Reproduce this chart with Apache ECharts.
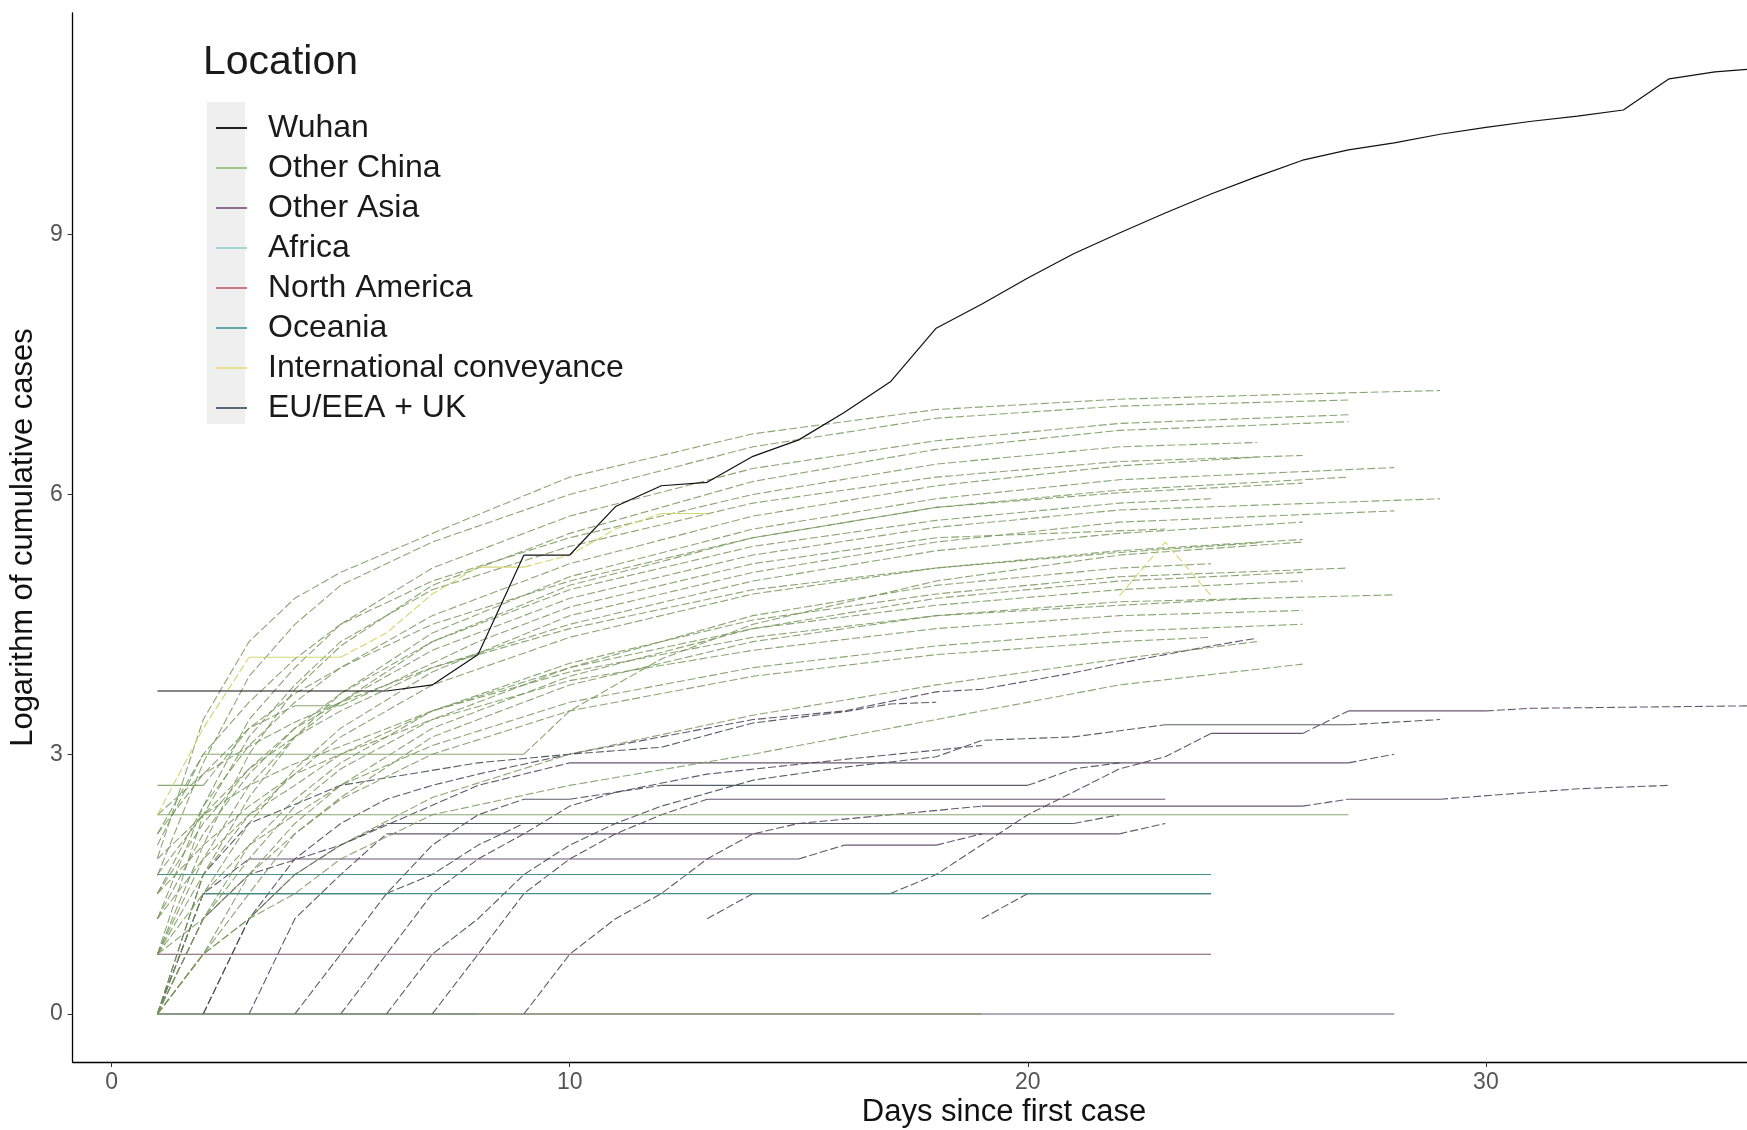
<!DOCTYPE html>
<html>
<head>
<meta charset="utf-8">
<script src="https://cdn.jsdelivr.net/npm/echarts@6/dist/echarts.min.js"></script>
<style>
html,body{margin:0;padding:0;background:#fff;}
#chart{width:1747px;height:1130px;}
</style>
</head>
<body>
<div id="chart"></div>
<script>
// ---- data (day, log cumulative cases) ----
const xTicks = [0, 10, 20, 30];
const yTicks = [0, 3, 6, 9];
const groups = ['Wuhan','Other China','Other Asia','Africa','North America','Oceania','International conveyance','EU/EEA + UK'];

const wuhan = [[1,3.73],[2,3.73],[3,3.73],[4,3.73],[5,3.73],[6,3.73],[7,3.8],[8,4.15],[9,5.3],[10,5.3],[11,5.86],[12,6.1],[13,6.14],[14,6.44],[15,6.63],[16,6.95],[17,7.3],[18,7.92],[19,8.2],[20,8.5],[21,8.78],[22,9.02],[23,9.25],[24,9.47],[25,9.67],[26,9.86],[27,9.98],[28,10.06],[29,10.16],[30,10.24],[31,10.31],[32,10.37],[33,10.44],[34,10.8],[35,10.88],[36,10.92]];

const otherChina = [
  [[1,1.8],[2,3.4],[3,4.3],[4,4.8],[5,5.1],[7,5.55],[10,6.2],[14,6.7],[18,6.98],[22,7.1],[26,7.16],[29,7.2]],
  [[1,1.6],[2,2.9],[3,3.9],[4,4.5],[5,4.95],[7,5.45],[10,6.0],[14,6.55],[18,6.88],[22,7.02],[27,7.09]],
  [[1,1.1],[2,2.4],[3,3.4],[4,4.0],[5,4.5],[7,5.15],[10,5.75],[14,6.3],[18,6.62],[22,6.82],[27,6.92]],
  [[1,0.69],[2,1.95],[3,3.0],[4,3.75],[5,4.25],[7,4.95],[10,5.55],[14,6.15],[18,6.52],[22,6.74],[27,6.84]],
  [[1,2.08],[2,3.0],[3,3.6],[4,4.1],[5,4.5],[7,5.0],[10,5.5],[14,6.0],[18,6.35],[22,6.55],[25,6.6]],
  [[1,1.39],[2,2.4],[3,3.1],[4,3.6],[5,4.0],[7,4.6],[10,5.2],[14,5.75],[18,6.1],[22,6.33],[25,6.43]],
  [[1,0.69],[2,2.3],[3,3.2],[4,3.8],[5,4.3],[7,4.9],[10,5.4],[14,5.9],[18,6.2],[22,6.38],[26,6.45]],
  [[1,0],[2,1.61],[3,2.5],[4,3.2],[5,3.7],[7,4.4],[10,5.05],[14,5.6],[18,5.95],[22,6.17],[28,6.31]],
  [[1,0.69],[2,1.79],[3,2.64],[4,3.2],[5,3.6],[7,4.3],[10,4.95],[14,5.5],[18,5.85],[22,6.05],[27,6.2]],
  [[1,2.08],[2,2.77],[3,3.3],[4,3.7],[5,4.0],[7,4.5],[10,5.0],[14,5.5],[18,5.85],[22,6.02],[26,6.13]],
  [[1,1.39],[2,2.2],[3,2.83],[4,3.3],[5,3.6],[7,4.2],[10,4.8],[14,5.3],[18,5.62],[22,5.82],[29,5.95]],
  [[1,1.1],[2,2.08],[3,2.77],[4,3.3],[5,3.7],[7,4.3],[10,4.9],[14,5.4],[18,5.7],[22,5.9],[24,5.95]],
  [[1,0],[2,1.39],[3,2.2],[4,2.83],[5,3.3],[7,3.95],[10,4.6],[14,5.1],[18,5.45],[22,5.68],[28,5.81]],
  [[1,1.61],[2,2.3],[3,2.83],[4,3.2],[5,3.5],[7,4.0],[10,4.5],[14,5.0],[18,5.35],[22,5.55],[26,5.68]],
  [[1,0.69],[2,1.61],[3,2.3],[4,2.77],[5,3.2],[7,3.8],[10,4.35],[14,4.85],[18,5.15],[22,5.35],[26,5.48]],
  [[1,2.3],[2,2.77],[3,3.09],[4,3.37],[5,3.6],[7,4.0],[10,4.45],[14,4.9],[18,5.15],[22,5.33],[25,5.44]],
  [[1,0],[2,1.1],[3,1.79],[4,2.4],[5,2.83],[7,3.4],[10,4.0],[14,4.6],[18,4.95],[22,5.15],[24,5.2]],
  [[1,0],[2,1.1],[3,1.95],[4,2.48],[5,2.9],[7,3.5],[10,4.05],[14,4.55],[18,4.85],[22,5.05],[27,5.15]],
  [[1,0],[2,0.69],[3,1.61],[4,2.2],[5,2.64],[7,3.3],[10,3.9],[14,4.45],[18,4.8],[22,5.0],[26,5.1]],
  [[1,1.1],[2,1.79],[3,2.3],[4,2.64],[5,3.0],[7,3.5],[10,4.0],[14,4.45],[18,4.72],[22,4.9],[26,5.0]],
  [[1,0],[2,0.69],[3,1.39],[4,2.08],[5,2.5],[7,3.2],[10,3.8],[14,4.3],[18,4.6],[22,4.76],[28,4.84]],
  [[1,1.79],[2,2.3],[3,2.64],[4,2.89],[5,3.09],[7,3.5],[10,3.95],[14,4.35],[18,4.6],[22,4.72],[25,4.8]],
  [[1,1.39],[2,1.95],[3,2.4],[4,2.77],[5,3.0],[7,3.4],[10,3.85],[14,4.2],[18,4.45],[22,4.6],[26,4.66]],
  [[1,0.69],[2,1.39],[3,1.95],[4,2.3],[5,2.64],[7,3.1],[10,3.6],[14,4.0],[18,4.25],[22,4.42],[26,4.5]],
  [[1,0.69],[2,1.1],[3,1.61],[4,2.08],[5,2.48],[7,3.0],[10,3.5],[14,3.9],[18,4.15],[22,4.3],[24,4.35]],
  [[1,0],[2,0.69],[3,1.1],[4,1.61],[5,1.95],[7,2.5],[10,3.0],[14,3.45],[18,3.8],[22,4.1],[25,4.3]],
  [[1,0],[2,0.69],[3,1.1],[4,1.39],[5,1.79],[7,2.3],[10,2.64],[14,3.0],[18,3.4],[22,3.8],[26,4.04]],
  [[1,2.64],[2,2.64],[3,3.3],[4,3.56],[5,3.56],[6,3.8],[8,4.3],[10,4.7],[14,5.2],[18,5.5],[23,5.6]],
  [[1,1.95],[2,3.0],[9,3.0],[10,3.5],[12,4.1],[14,4.5],[18,5.0],[22,5.3],[26,5.45]],
  [[1,2.3],[27,2.3]],
  [[1,0],[19,0]]
];

const otherAsia = [
  [[1,0],[28,0]],
  [[1,0],[2,1.39],[3,1.79],[15,1.79],[16,1.95],[18,1.95],[19,2.08]],
  [[3,0],[4,1.1],[5,1.61],[6,2.08],[22,2.08],[23,2.2]],
  [[5,0],[6,0.69],[7,1.39],[8,1.79],[9,2.08],[10,2.4],[11,2.56],[13,2.77],[16,2.94],[19,3.1]],
  [[7,0],[8,0.69],[9,1.39],[10,1.79],[11,2.08],[12,2.3],[13,2.48],[23,2.48]],
  [[2,0],[3,1.1],[4,1.79],[5,2.2],[6,2.48],[7,2.64],[8,2.77],[10,3.0],[12,3.2],[14,3.4],[16,3.5],[18,3.72],[19,3.75],[21,3.94],[22,4.05],[23,4.15],[24,4.25],[25,4.34]],
  [[1,0],[2,1.1],[3,1.61],[5,1.95],[8,2.64],[10,2.9],[27,2.9],[28,3.0]],
  [[13,1.1],[14,1.39],[17,1.39],[18,1.61],[20,2.3],[22,2.83],[23,2.97],[24,3.24],[26,3.24],[27,3.5],[30,3.5],[31,3.53],[36,3.56]],
  [[9,0],[10,0.69],[11,1.1],[12,1.39],[13,1.79],[14,2.08],[15,2.2],[17,2.3],[19,2.4],[26,2.4],[27,2.48],[29,2.48],[31,2.56],[32,2.6],[34,2.64]],
  [[19,1.1],[20,1.39],[24,1.39]]
];

const africa = [
  [[1,0],[8,0]]
];

const northAmerica = [
  [[1,0.69],[24,0.69]]
];

const oceania = [
  [[2,1.39],[24,1.39]],
  [[1,1.61],[24,1.61]]
];

const intlConveyance = [
  [[1,2.3],[2,3.3],[3,4.12],[5,4.12],[6,4.4],[7,4.85],[8,5.16],[9,5.16],[10,5.3],[11,5.6],[12,5.78],[13,5.78]],
  [[22,4.83],[23,5.45],[24,4.83]]
];

const euUk = [
  [[2,0],[3,1.1],[4,1.61],[5,1.95],[6,2.2],[21,2.2],[22,2.3]],
  [[4,0],[5,0.69],[6,1.39],[7,1.95],[8,2.3],[9,2.48],[10,2.48],[12,2.64],[20,2.64],[21,2.83],[22,2.9]],
  [[6,0],[7,0.69],[8,1.1],[9,1.61],[10,1.95],[11,2.2],[12,2.4],[14,2.7],[16,2.85],[18,2.97],[19,3.16],[21,3.2],[23,3.34],[27,3.34],[28,3.37],[29,3.4]],
  [[1,0],[2,1.61],[3,2.2],[5,2.64],[8,2.9],[10,3.0],[12,3.08],[14,3.36],[16,3.49],[17,3.58],[18,3.6]],
  [[1,0],[2,1.39],[6,1.39],[7,1.61],[8,1.95],[9,2.2]]
];

// ---- styling ----
const lineColor = {
  'Wuhan':'#111111',
  'Other China':'#76965a',
  'Other Asia':'#54445d',
  'Africa':'#8fd3c9',
  'North America':'#6e4452',
  'Oceania':'#3e8c88',
  'International conveyance':'#cfd56a',
  'EU/EEA + UK':'#454d55'
};
const keyColor = {
  'Wuhan':'#222222',
  'Other China':'#9cc985',
  'Other Asia':'#8d6f8c',
  'Africa':'#9fd9d0',
  'North America':'#c97985',
  'Oceania':'#62a8a4',
  'International conveyance':'#e2e38a',
  'EU/EEA + UK':'#5d6972'
};
const dashPattern = [8, 3];

const series = [];
// split each polyline into runs of flat (solid) and sloped (dashed) segments
function addGroup(name, lines, width, opacity, z, dashed) {
  lines.forEach(function (pts) {
    let start = 0;
    for (let i = 1; i < pts.length; i++) {
      const flat = pts[i][1] === pts[i - 1][1];
      const nextFlat = i + 1 < pts.length ? pts[i + 1][1] === pts[i][1] : null;
      if (nextFlat === null || nextFlat !== flat) {
        series.push({
          type: 'line', name: name, data: pts.slice(start, i + 1), showSymbol: false, silent: true,
          animation: false, z: z,
          lineStyle: { color: lineColor[name], width: width, opacity: opacity,
            type: (dashed && !flat) ? dashPattern : 'solid' },
          itemStyle: { color: lineColor[name] }
        });
        start = i;
      }
    }
  });
}
addGroup('Africa', africa, 1, 0.9, 2, true);
addGroup('Other Asia', otherAsia, 1.1, 0.9, 3, true);
addGroup('North America', northAmerica, 1.1, 0.9, 3, true);
addGroup('EU/EEA + UK', euUk, 1.1, 0.9, 3, true);
addGroup('Oceania', oceania, 1.1, 0.95, 4, true);
addGroup('Other China', otherChina, 1.1, 0.85, 5, true);
addGroup('International conveyance', intlConveyance, 1.1, 0.95, 6, true);
addGroup('Wuhan', [wuhan], 1.2, 1, 8, false);

const chart = echarts.init(document.getElementById('chart'), null, { renderer: 'canvas' });
chart.setOption({
  animation: false,
  backgroundColor: '#ffffff',
  textStyle: { fontFamily: 'Liberation Sans, Arial, sans-serif' },
  grid: { left: 70, right: 0, top: 13, bottom: 68, containLabel: false },
  xAxis: {
    type: 'value', min: -0.85, max: 35.7,
    axisLine: { show: true, onZero: false, lineStyle: { color: '#000', width: 1.3 } },
    axisTick: { show: true, customValues: xTicks, length: 5, lineStyle: { color: '#333' } },
    axisLabel: { customValues: xTicks, fontSize: 23, color: '#555555', margin: 9 },
    splitLine: { show: false }
  },
  yAxis: {
    type: 'value', min: -0.555, max: 11.56,
    name: 'Logarithm of cumulative cases', nameLocation: 'middle', nameGap: 25,
    nameTextStyle: { fontSize: 31, color: '#111', fontFamily: 'Liberation Sans, Arial, sans-serif' },
    axisLine: { show: true, onZero: false, lineStyle: { color: '#000', width: 1.3 } },
    axisTick: { show: true, customValues: yTicks, length: 5, lineStyle: { color: '#333' } },
    axisLabel: { customValues: yTicks, fontSize: 23, color: '#555555', margin: 10 },
    splitLine: { show: false }
  },
  legend: {
    show: true, orient: 'vertical', left: 211, top: 103,
    selectedMode: false, icon: 'rect', itemWidth: 31, itemHeight: 2, itemGap: 0,
    textStyle: { fontSize: 32, color: '#1a1a1a', lineHeight: 40, padding: [0, 0, 0, 16],
      fontFamily: 'Liberation Sans, Arial, sans-serif' },
    data: groups.map(function (g) { return { name: g, itemStyle: { color: keyColor[g] } }; })
  },
  graphic: [
    { type: 'rect', left: 207, top: 102, z: -1, silent: true,
      shape: { width: 38, height: 322 }, style: { fill: '#efefef' } },
    { type: 'text', left: 203, top: 42, silent: true,
      style: { text: 'Location', fontSize: 41, fill: '#1a1a1a', fontFamily: 'Liberation Sans, Arial, sans-serif' } },
    { type: 'text', x: 1004, y: 1112, silent: true,
      style: { text: 'Days since first case', fontSize: 31, fill: '#111', align: 'center', verticalAlign: 'middle',
        fontFamily: 'Liberation Sans, Arial, sans-serif' } }
  ],
  series: series
});
</script>
</body>
</html>
